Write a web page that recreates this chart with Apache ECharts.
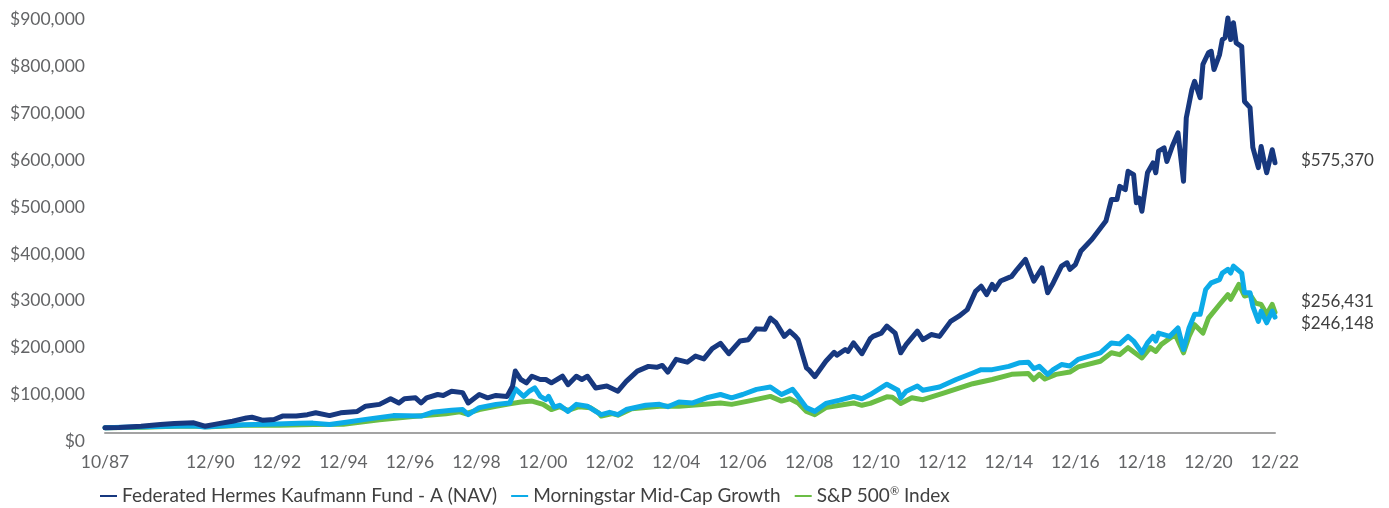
<!DOCTYPE html>
<html><head><meta charset="utf-8">
<script src="https://cdn.jsdelivr.net/npm/echarts@6/dist/echarts.min.js"></script>
<style>html,body{margin:0;padding:0;background:#fff}#c{width:1389px;height:508px}</style>
</head><body><div id="c"></div>
<script>
const seriesNames = ['Federated Hermes Kaufmann Fund - A (NAV)', 'Morningstar Mid-Cap Growth', 'S&P 500® Index'];
const seriesColors = ['#17387f', '#0cabe8', '#6bbd45'];
const endLabels = ['$575,370', '$246,148', '$256,431'];

const kaufDates = ['1987-10','1988-03','1988-11','1989-06','1989-11','1990-06','1990-10','1991-03','1991-08','1992-01','1992-03','1992-07','1992-11','1993-02','1993-07','1993-11','1994-02','1994-07','1994-11','1995-05','1995-08','1996-01','1996-05','1996-08','1996-10','1997-02','1997-04','1997-06','1997-10','1997-12','1998-03','1998-07','1998-09','1999-01','1999-04','1999-07','1999-11','2000-01','2000-02','2000-04','2000-06','2000-08','2000-11','2001-01','2001-03','2001-07','2001-09','2001-12','2002-02','2002-04','2002-07','2002-11','2003-03','2003-06','2003-10','2004-02','2004-05','2004-07','2004-09','2004-12','2005-04','2005-07','2005-10','2006-01','2006-04','2006-07','2006-11','2007-02','2007-05','2007-08','2007-10','2007-12','2008-03','2008-05','2008-07','2008-08','2008-11','2008-12','2009-02','2009-06','2009-09','2009-10','2010-01','2010-02','2010-04','2010-07','2010-10','2010-11','2011-02','2011-04','2011-07','2011-09','2011-11','2012-03','2012-05','2012-08','2012-11','2013-03','2013-06','2013-09','2013-12','2014-02','2014-04','2014-06','2014-07','2014-09','2015-01','2015-03','2015-06','2015-09','2015-12','2016-02','2016-04','2016-07','2016-09','2016-10','2016-12','2017-02','2017-06','2017-11','2018-01','2018-03','2018-04','2018-06','2018-07','2018-09','2018-10','2018-11','2018-12','2019-02','2019-04','2019-05','2019-06','2019-08','2019-09','2019-11','2020-01','2020-03','2020-04','2020-06','2020-07','2020-09','2020-10','2020-12','2021-01','2021-02','2021-04','2021-05','2021-06','2021-07','2021-08','2021-09','2021-10','2021-12','2022-01','2022-03','2022-04','2022-06','2022-07','2022-08','2022-09','2022-11','2022-12'];
const kaufValues = [10000,10800,13500,17000,19000,20600,13500,19000,24000,31000,32500,26000,27700,35000,35000,38000,42000,36000,42000,45000,56000,60000,72000,63000,72000,74000,63000,74000,81000,79000,88000,85000,63000,81000,74000,79000,77000,99000,131000,113000,106000,120000,113000,113000,106000,120000,102000,120000,113000,120000,95000,99000,88000,109000,131000,141000,139000,143000,129000,156000,150000,163000,157000,179000,190000,168000,195000,198000,221000,220000,244000,234000,205000,216000,205000,198000,138000,133000,119000,152000,171000,165000,177000,173000,191000,168000,200000,205000,212000,227000,212000,170000,188000,216000,198000,209000,205000,237000,248000,262000,301000,312000,294000,316000,305000,323000,333000,348000,369000,323000,351000,298000,319000,355000,362000,348000,358000,387000,412000,451000,497000,497000,525000,518000,557000,550000,490000,500000,472000,554000,575000,554000,600000,607000,578000,611000,639000,536000,671000,731000,749000,714000,785000,810000,813000,774000,806000,838000,842000,884000,838000,874000,831000,823000,706000,693000,608000,565000,610000,580000,554000,603000,575370];

const mcgDates = ['1987-10','1988-08','1989-08','1990-06','1990-10','1991-03','1991-12','1992-12','1993-08','1994-01','1994-07','1995-01','1995-08','1996-06','1997-04','1997-08','1998-03','1998-07','1998-09','1999-01','1999-07','1999-12','2000-02','2000-05','2000-07','2000-09','2000-11','2001-01','2001-02','2001-04','2001-06','2001-09','2001-12','2002-04','2002-07','2002-09','2002-12','2003-03','2003-06','2004-01','2004-06','2004-09','2005-01','2005-06','2005-11','2006-04','2006-08','2006-12','2007-05','2007-10','2008-02','2008-06','2008-08','2008-11','2009-02','2009-06','2009-11','2010-04','2010-07','2010-10','2011-04','2011-08','2011-09','2011-11','2012-03','2012-05','2012-11','2013-05','2013-11','2014-02','2014-06','2014-12','2015-04','2015-07','2015-09','2015-11','2016-02','2016-04','2016-07','2016-10','2017-01','2017-09','2018-01','2018-04','2018-07','2018-09','2018-12','2019-02','2019-04','2019-05','2019-06','2019-10','2020-01','2020-03','2020-05','2020-07','2020-09','2020-11','2021-01','2021-04','2021-05','2021-07','2021-08','2021-09','2021-12','2022-01','2022-03','2022-04','2022-06','2022-07','2022-09','2022-11','2022-12'];
const mcgValues = [10000,11500,13500,14500,11500,14000,16500,18000,19500,20000,17000,22000,28000,36000,35000,43000,47500,49000,38000,53000,60000,63000,93000,77000,88000,95000,77000,70000,77000,54000,58000,45000,60000,56000,45000,38000,43000,38000,49000,58000,60000,55000,65000,63000,74000,81000,74000,81000,92000,97000,81000,92000,77000,53000,45000,62000,69000,77000,72000,81000,103000,90000,74000,88000,99000,90000,97000,113000,127000,134000,134000,141000,149000,150000,136000,141000,124000,134000,145000,142000,156000,170000,191000,189000,205000,195000,170000,191000,205000,195000,212000,205000,223000,177000,223000,252000,252000,305000,319000,326000,340000,348000,340000,355000,340000,298000,298000,269000,237000,259000,234000,259000,246148];

const spDates = ['1987-10','1988-12','1989-08','1989-12','1990-07','1990-10','1990-12','1991-12','1993-01','1994-01','1994-12','1996-01','1997-01','1998-01','1998-06','1998-08','1999-01','1999-07','1999-12','2000-04','2000-08','2000-12','2001-03','2001-06','2001-09','2002-01','2002-05','2002-08','2002-09','2003-01','2003-03','2003-08','2004-06','2005-01','2005-08','2006-04','2006-08','2007-02','2007-10','2008-02','2008-05','2008-08','2008-11','2009-02','2009-06','2009-11','2010-04','2010-07','2010-10','2011-04','2011-06','2011-09','2012-01','2012-05','2013-01','2013-11','2014-06','2015-01','2015-07','2015-09','2015-11','2016-01','2016-05','2016-10','2017-01','2017-09','2018-01','2018-04','2018-07','2018-12','2019-03','2019-05','2019-07','2019-12','2020-03','2020-05','2020-07','2020-10','2020-12','2021-04','2021-07','2021-08','2021-11','2022-01','2022-03','2022-05','2022-07','2022-09','2022-11','2022-12'];
const spValues = [10000,11000,13000,13200,13800,12000,12500,15500,15500,17000,17500,27000,34000,40000,44000,40000,49000,56000,61000,65000,67000,60000,49000,55000,47000,55000,53000,42000,35000,40500,37000,50500,56000,56000,59000,63000,60000,67000,77000,67000,72000,63000,45000,38000,53000,58000,63000,58000,62000,76000,75000,62000,74000,70000,85000,104000,113000,124000,126000,113000,124000,114000,124000,129000,140000,152000,170000,166000,181000,159000,181000,173000,188000,209000,170000,205000,230000,212000,244000,273000,294000,284000,316000,291000,294000,276000,273000,252000,273000,256431];

const xTickDates = ['1987-10','1990-12','1992-12','1994-12','1996-12','1998-12','2000-12','2002-12','2004-12','2006-12','2008-12','2010-12','2012-12','2014-12','2016-12','2018-12','2020-12','2022-12'];
const xTickLabels = ['10/87','12/90','12/92','12/94','12/96','12/98','12/00','12/02','12/04','12/06','12/08','12/10','12/12','12/14','12/16','12/18','12/20','12/22'];

function monthIndex(s) { const p = s.split('-').map(Number); return (p[0] - 1987) * 12 + (p[1] - 10); }
const xTickMonths = xTickDates.map(monthIndex);
const FONT = 'Lato';

const allDates = [kaufDates, mcgDates, spDates];
const allValues = [kaufValues, mcgValues, spValues];
const endOffsets = [[18, -2], [18, 6], [18, -11]];
const zs = [4, 3, 2];

const series = seriesNames.map((name, i) => ({
  name: name,
  type: 'line',
  z: zs[i],
  showSymbol: false,
  symbol: 'none',
  color: seriesColors[i],
  lineStyle: { width: 5, color: seriesColors[i], join: 'round', cap: 'round' },
  data: allDates[i].map((d, j) => [monthIndex(d), allValues[i][j]]),
  endLabel: {
    show: true, formatter: endLabels[i], offset: endOffsets[i],
    color: '#404040', fontSize: 17, fontFamily: FONT
  },
  emphasis: { disabled: true }
}));

const chart = echarts.init(document.getElementById('c'), null, { renderer: 'canvas' });
chart.setOption({
  animation: false,
  backgroundColor: '#fff',
  grid: { left: 105, right: 114, top: 10.5, bottom: 75.5, outerBoundsMode: 'none', containLabel: false },
  legend: {
    data: seriesNames, left: 95, top: 481, icon: 'rect', itemWidth: 17, itemHeight: 2, itemGap: 14,
    textStyle: { fontSize: 19, color: '#404040', fontFamily: FONT,
      rich: { sup: { fontSize: 11, color: '#404040', fontFamily: FONT, verticalAlign: 'top', padding: [0, 0, 9, 0] } } },
    formatter: n => n.replace('®', '{sup|®}')
  },
  xAxis: {
    type: 'value', min: 0, max: monthIndex('2022-12'),
    axisLine: { show: true, lineStyle: { color: '#a3a3a3', width: 2 } },
    axisTick: { show: false }, splitLine: { show: false },
    axisLabel: {
      customValues: xTickMonths,
      formatter: v => xTickLabels[xTickMonths.indexOf(v)] || '',
      color: '#636466', fontSize: 17.5, fontFamily: FONT, margin: 21
    }
  },
  yAxis: {
    type: 'value', min: 0, max: 900000, interval: 100000,
    axisLine: { show: false }, axisTick: { show: false }, splitLine: { show: false },
    axisLabel: {
      formatter: v => '$' + v.toLocaleString('en-US'),
      color: '#636466', fontSize: 17.5, fontFamily: FONT, margin: 20, verticalAlign: 'top'
    }
  },
  series: series
});
</script></body></html>
